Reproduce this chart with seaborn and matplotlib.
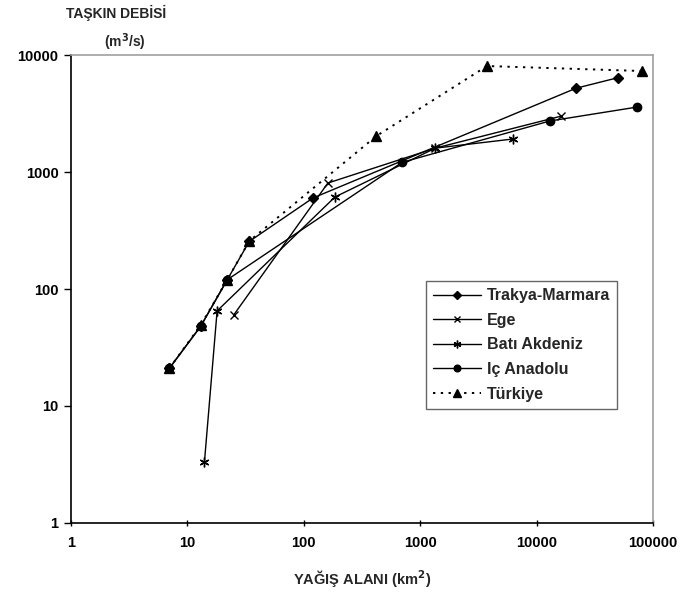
import numpy as np
import pandas as pd
import seaborn as sns
import matplotlib.pyplot as plt

# valori (alan km2, debi m3/s)
trakya_x = [7, 13, 22, 34, 120, 21800, 50000]
trakya_y = [21, 48, 120, 255, 600, 5200, 6400]

ege_x = [25, 161, 1350, 16200]
ege_y = [60, 805, 1600, 3000]

bati_x = [14, 18, 185, 1350, 6270]
bati_y = [3.3, 65, 611, 1600, 1915]

ic_x = [7, 13, 22, 700, 13000, 73000]
ic_y = [21, 48, 120, 1210, 2730, 3590]

turkiye_x = [7, 13, 22, 34, 420, 3750, 80000]
turkiye_y = [21, 49, 120, 257, 2030, 8050, 7300]

x_ticks = [1, 10, 100, 1000, 10000, 100000]
y_ticks = [1, 10, 100, 1000, 10000]

sns.set_style("ticks")
plt.rcParams["font.family"] = ["Liberation Sans", "DejaVu Sans"]
plt.rcParams["font.weight"] = "bold"

fig = plt.figure(figsize=(6.84, 5.96), dpi=100)
ax = fig.add_axes([0.1038, 0.1225, 0.8509, 0.7852])

serie = [
    ("Trakya-Marmara", trakya_x, trakya_y, "D", "-", 5),
    ("Ege", ege_x, ege_y, "x", "-", 6),
    ("Batı Akdeniz", bati_x, bati_y, (6, 2, 0), "-", 7),
    ("Iç Anadolu", ic_x, ic_y, "o", "-", 6),
    ("Türkiye", turkiye_x, turkiye_y, "^", (0, (1.2, 2.8)), 6.5),
]

for nome, xs, ys, mk, ls, ms in serie:
    df = pd.DataFrame({"x": xs, "y": ys})
    lw = 1.4 if nome == "Türkiye" else 1
    sns.lineplot(data=df, x="x", y="y", ax=ax, color="black", marker=mk,
                 markersize=ms, markeredgecolor="black", markeredgewidth=1,
                 linewidth=lw, linestyle=ls, label=nome, sort=False)

ax.set_xscale("log")
ax.set_yscale("log")
ax.set_xlim(1, 100000)
ax.set_ylim(1, 10000)
ax.set_xticks(x_ticks)
ax.set_xticklabels([str(v) for v in x_ticks])
ax.set_yticks(y_ticks)
ax.set_yticklabels([str(v) for v in y_ticks])
ax.minorticks_off()
ax.tick_params(axis="both", labelsize=10.5, length=5, width=1, colors="black")
ax.tick_params(axis="x", direction="inout", pad=7)
ax.tick_params(axis="y", direction="out", pad=4)

for lab in ax.get_xticklabels() + ax.get_yticklabels():
    lab.set_fontweight("bold")

ax.spines["left"].set_color("black")
ax.spines["bottom"].set_color("black")
ax.spines["top"].set_color("#a0a0a0")
ax.spines["right"].set_color("#a0a0a0")
for s in ax.spines.values():
    s.set_linewidth(1.2)

ax.set_xlabel("YAĞIŞ ALANI (km$^{2}$)", fontsize=10.5, fontweight="bold", labelpad=13)
ax.set_ylabel("")
fig.text(0.17, 0.978, "TAŞKIN DEBİSİ", fontsize=10, fontweight="bold",
         ha="center", va="center")
fig.text(0.183, 0.93, "(m$^{3}$/s)", fontsize=10, fontweight="bold",
         ha="center", va="center")

leg = ax.legend(loc="upper left", bbox_to_anchor=(0.61, 0.517), fontsize=11.5,
                frameon=True, fancybox=False, handlelength=3, borderpad=0.45,
                labelspacing=0.6, handletextpad=0.35, borderaxespad=0,
                markerscale=0.8)
leg.get_frame().set_edgecolor("#404040")
leg.get_frame().set_linewidth(1)
for t in leg.get_texts():
    t.set_fontweight("bold")

plt.savefig("out.png", dpi=100)
